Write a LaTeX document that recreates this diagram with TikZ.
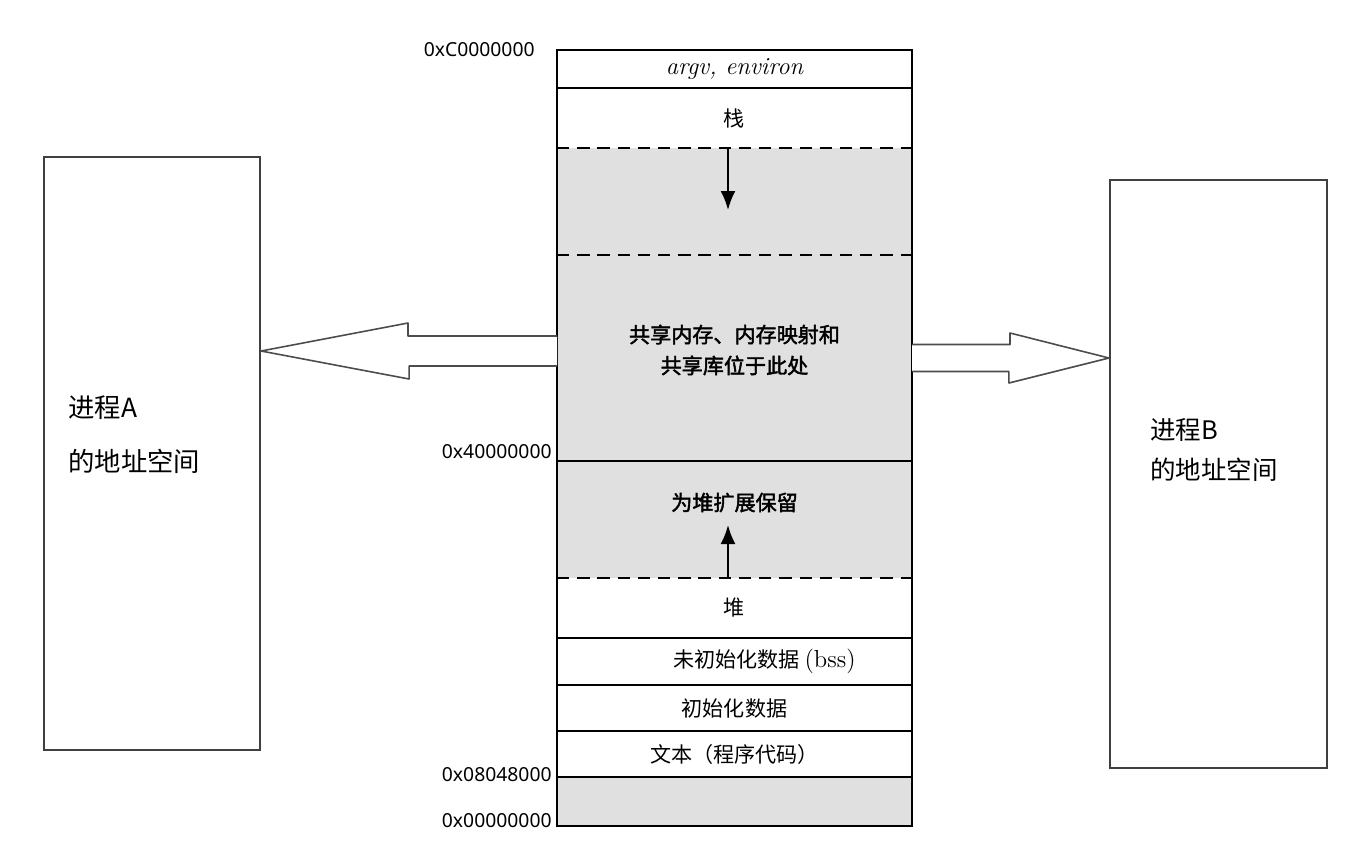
\documentclass[tikz,border=0pt]{standalone}
\usepackage{fontspec}
\newfontfamily\cjk[AutoFakeBold=2]{Noto Sans CJK SC}
\newfontfamily\addrfont{Noto Sans}
\usepackage{tikz}
\usetikzlibrary{positioning,calc,arrows.meta}

\begin{document}
\begin{tikzpicture}[
    seg/.style={rectangle, minimum width=7.1cm, inner sep=0pt, outer sep=0pt, font=\cjk\fontsize{12}{14}\selectfont},
    shade/.style={fill=black!12},
    midtext/.style={align=center, inner sep=0pt, font=\cjk\bfseries\fontsize{12}{17.6}\selectfont},
    addr/.style={font=\addrfont\fontsize{11}{13}\selectfont, anchor=east, inner sep=0pt},
    proc/.style={rectangle, draw=black!75, line width=1.2pt, minimum width=4.32cm, inner sep=0pt},
    hollow/.style={draw=black!70, fill=white, line width=0.9pt, line join=round},
    growth/.style={line width=1.2pt, -{Latex[length=3.8mm,width=3mm]}}
]

\useasboundingbox (0,0) rectangle (27.42,-17.22);

% memory layout column
\node[seg, minimum height=0.76cm, font=\itshape\fontsize{14}{16}\selectfont] (argv) at (14.69,-1.38) {argv, environ};
\node[seg, minimum height=1.2cm, below=0cm of argv] (stack) {栈};
\node[seg, shade, minimum height=2.14cm, below=0cm of stack] (grow) {};
\node[seg, shade, minimum height=4.12cm, below=0cm of grow] (shared) {};
\node[seg, shade, minimum height=2.34cm, below=0cm of shared] (heapres) {};
\node[seg, minimum height=1.2cm, below=0cm of heapres] (heap) {堆};
\node[seg, minimum height=0.94cm, below=0cm of heap] (bss) {\hspace*{1.2cm}未初始化数据 {\rmfamily\fontsize{14}{16}\selectfont(bss)}};
\node[seg, minimum height=0.92cm, below=0cm of bss] (data) {初始化数据};
\node[seg, minimum height=0.92cm, below=0cm of data] (code) {文本（程序代码）};
\node[seg, shade, minimum height=0.98cm, below=0cm of code] (low) {};

\node[midtext] (sharedtxt) at ([yshift=0.16cm]shared.center) {共享内存、内存映射和\\共享库位于此处};
\node[midtext] (heapretxt) at ([yshift=0.34cm]heapres.center) {为堆扩展保留};

\foreach \s in {argv,shared,heap,bss,data,code}
    \draw[line width=1pt] (\s.south west) -- (\s.south east);
\foreach \s in {stack,grow,heapres}
    \draw[line width=1pt, dash pattern=on 7pt off 4.5pt] (\s.south west) -- (\s.south east);
\draw[line width=1pt] (argv.north west) rectangle (low.south east);

\draw[growth] ([xshift=-0.13cm]grow.north) -- ++(0,-1.24);
\draw[growth] ([xshift=-0.13cm]heapres.south) -- ++(0,1.06);

% addresses
\node[addr] (atop) at ([xshift=-0.44cm]argv.north west) {0xC0000000};
\node[addr] (amid) at ([xshift=-0.1cm, yshift=0.18cm]shared.south west) {0x40000000};
\node[addr] (atext) at ([xshift=-0.1cm, yshift=0.04cm]code.south west) {0x08048000};
\node[addr] (azero) at ([xshift=-0.1cm, yshift=0.1cm]low.south west) {0x00000000};

% processes
\node[proc, minimum height=11.86cm] (procA) at (3.04,-9.07) {};
\node[proc, minimum width=4.34cm, minimum height=11.76cm] (procB) at (24.37,-9.48) {};
\node[anchor=west, align=left, inner sep=0pt, font=\cjk\fontsize{15}{30.7}\selectfont] (labA) at (1.36,-8.70) {进程A\\的地址空间};
\node[anchor=west, align=left, inner sep=0pt, font=\cjk\fontsize{14.5}{22.8}\selectfont] (labB) at (23.0,-9.0) {进程B\\的地址空间};

% mapping arrows
\coordinate (sa) at ([yshift=0.14cm]shared.west);
\coordinate (tipA) at (procA.east |- sa);
\draw[hollow] ([yshift=0.3cm]sa) -- ++(-2.98,0) -- ++(0,0.26) -- (tipA) -- ++(2.96,-0.56) -- ++(0,0.26) -- ([yshift=-0.3cm]sa);
\coordinate (sb) at (shared.east);
\coordinate (tipB) at (procB.west |- sb);
\draw[hollow] ([yshift=0.27cm]sb) -- ++(1.96,0) -- ++(0,0.23) -- (tipB) -- ++(-2.0,-0.5) -- ++(0,0.23) -- ([yshift=-0.27cm]sb);

\end{tikzpicture}
\end{document}
